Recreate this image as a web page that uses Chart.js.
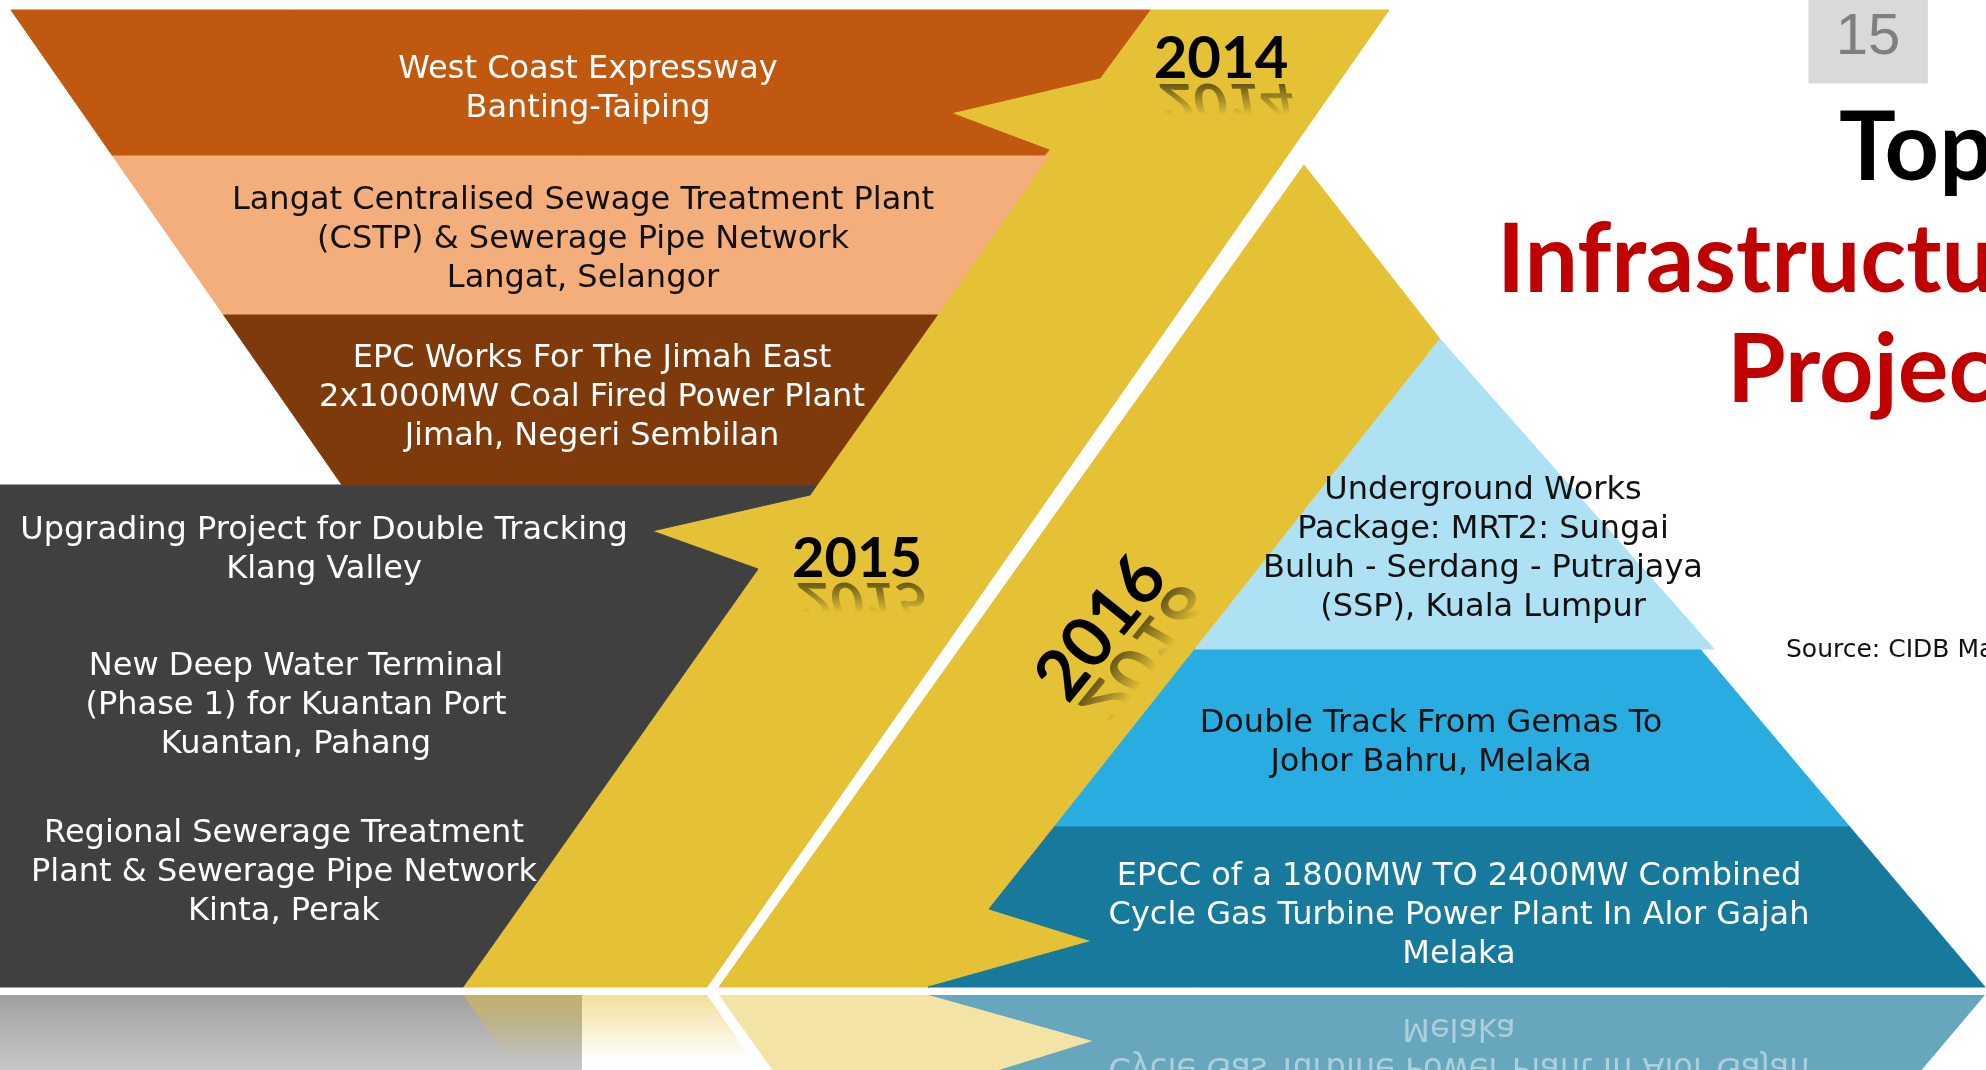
<!DOCTYPE html>
<html>
<head>
<meta charset="utf-8">
<script src="https://cdn.jsdelivr.net/npm/chart.js@4.4.0/dist/chart.umd.min.js"></script>
<style>
  html, body { margin: 0; padding: 0; background: #ffffff; }
  canvas { display: block; }
</style>
</head>
<body>
<canvas id="chart" width="1986" height="1070"></canvas>
<script>
// ---------------- DATA ----------------
// outlines in page units (x to the right, y downwards)

const tierWestCoast = [[11, 10], [1150, 10], [1100, 78], [951, 113], [1049, 150], [1045, 155], [112, 155]];
const tierLangat = [[112, 155], [1049, 155], [938, 314], [223, 314]];
const tierJimah = [[223, 314], [938, 314], [817, 485], [342, 485]];
const panel2015 = [[0, 485], [817, 485], [810, 495], [652, 531], [758, 569], [463, 987], [0, 987]];
const ribbon2014 = [[1150, 10], [1389, 10], [707, 987], [463, 987], [758, 569], [652, 531], [810, 495], [1049, 150], [951, 113], [1100, 78]];
const ribbon2016 = [[1304, 165], [1440, 339], [989, 909], [1092, 941], [928, 987], [719, 987]];
const tierMRT2 = [[1440, 339], [1714, 649], [1195, 649]];
const tierGemas = [[1195, 649], [1700, 649], [1849, 826], [1055, 826]];
const tierAlorGajah = [[1055, 826], [1849, 826], [1985, 987], [928, 987], [1092, 941], [989, 909]];
const pageBox = [[1809, 0], [1927, 0], [1927, 83], [1809, 83]];
const floorShadow = [[0, 995], [582, 995], [582, 1070], [0, 1070]];

const years = ['2014', '2015', '2016'];

const text2014 = [
  ['West Coast Expressway', 'Banting-Taiping'],
  ['Langat Centralised Sewage Treatment Plant', '(CSTP) & Sewerage Pipe Network', 'Langat, Selangor'],
  ['EPC Works For The Jimah East', '2x1000MW Coal Fired Power Plant', 'Jimah, Negeri Sembilan']
];
const text2015 = [
  ['Upgrading Project for Double Tracking', 'Klang Valley'],
  ['New Deep Water Terminal', '(Phase 1) for Kuantan Port', 'Kuantan, Pahang'],
  ['Regional Sewerage Treatment', 'Plant & Sewerage Pipe Network', 'Kinta, Perak']
];
const text2016 = [
  ['Underground Works', 'Package: MRT2: Sungai', 'Buluh - Serdang - Putrajaya', '(SSP), Kuala Lumpur'],
  ['Double Track From Gemas To', 'Johor Bahru, Melaka'],
  ['EPCC of a 1800MW TO 2400MW Combined', 'Cycle Gas Turbine Power Plant In Alor Gajah', 'Melaka']
];

const titleLines = ['Top', 'Infrastructure', 'Projects'];
const pageNumber = '15';
const sourceNote = 'Source: CIDB Malaysia';

// ---------------- HELPERS ----------------

const MIRROR_Y = 991;

function mirror(points) {
  return points.map(p => [p[0], 2 * MIRROR_Y - p[1]]);
}

// vertical gradient between two page-unit rows
function fadeDown(colorTop, colorBottom, y0, y1) {
  return (c) => {
    const chart = c.chart;
    if (!chart.chartArea) return colorTop;
    const sy = chart.scales.y;
    const g = chart.ctx.createLinearGradient(0, sy.getPixelForValue(y0), 0, sy.getPixelForValue(y1));
    g.addColorStop(0, colorTop);
    g.addColorStop(1, colorBottom);
    return g;
  };
}

function shape(points, color, order, edge) {
  const pts = points.concat([points[0]]);
  return {
    data: pts.map(p => ({ x: p[0], y: p[1] })),
    showLine: true,
    fill: 'shape',
    backgroundColor: color,
    borderColor: edge || color,
    borderWidth: edge === 'none' ? 0 : 1,
    pointRadius: 0,
    pointHoverRadius: 0,
    tension: 0,
    order: order
  };
}

const datasets = [
  shape(tierWestCoast, '#C0580F', 3),
  shape(tierLangat, '#F4AE7B', 3),
  shape(tierJimah, '#7E3A0A', 3),
  shape(panel2015, '#404040', 3),
  shape(ribbon2014, '#E4C135', 4),
  shape(ribbon2016, '#E4C135', 4),
  shape(tierMRT2, '#AEE1F3', 3),
  shape(tierGemas, '#29ADE0', 3),
  shape(tierAlorGajah, '#17799C', 3),
  shape(pageBox, '#D9D9D9', 3),
  // reflection on the floor
  shape(floorShadow, fadeDown('#A0A0A0', '#C8C8C8', 995, 1070), 20, 'none'),
  shape(mirror(ribbon2014), fadeDown('rgba(228,193,53,0.5)', 'rgba(228,193,53,0)', 995, 1060), 19, 'none'),
  shape(mirror(ribbon2016), 'rgba(228,193,53,0.45)', 17, 'none'),
  shape(mirror(tierAlorGajah), 'rgba(23,121,156,0.66)', 18, 'none')
];

// ---------------- TEXT ----------------

const bodyFont = '"DejaVu Sans", sans-serif';
const headFont = 'Lato, "DejaVu Sans", sans-serif';
const LINE = 39;

const blockSpots = [
  { lines: text2014[0], x: 588, y: 70, color: '#ffffff' },
  { lines: text2014[1], x: 583, y: 201, color: '#111111' },
  { lines: text2014[2], x: 592, y: 359, color: '#ffffff' },
  { lines: text2015[0], x: 324, y: 531, color: '#ffffff' },
  { lines: text2015[1], x: 296, y: 667, color: '#ffffff' },
  { lines: text2015[2], x: 284, y: 834, color: '#ffffff' },
  { lines: text2016[0], x: 1483, y: 491, color: '#111111' },
  { lines: text2016[1], x: 1431, y: 724, color: '#111111' },
  { lines: text2016[2], x: 1459, y: 877, color: '#ffffff' }
];

const yearSpots = [
  { x: 1221, y: 78, angle: 0, size: 58 },
  { x: 857, y: 577, angle: 0, size: 56 },
  { x: 1119, y: 642, angle: -51, size: 70 }
];

function drawYear(ctx, text, x, y, angle, size) {
  ctx.save();
  ctx.translate(x, y);
  ctx.rotate(angle * Math.PI / 180);
  ctx.font = `bold ${size}px ${headFont}`;
  ctx.textAlign = 'center';
  ctx.textBaseline = 'alphabetic';
  ctx.fillStyle = '#000000';
  ctx.fillText(text, 0, 0);
  // soft mirrored copy under the baseline
  ctx.translate(size * 0.06, size * 0.1);
  ctx.transform(1, 0, -0.15, -0.9, 0, 0);
  const g = ctx.createLinearGradient(0, 0, 0, -size * 0.6);
  g.addColorStop(0, 'rgba(0,0,0,0.55)');
  g.addColorStop(1, 'rgba(0,0,0,0)');
  ctx.fillStyle = g;
  ctx.fillText(text, 0, 0);
  ctx.restore();
}

const textPlugin = {
  id: 'infoText',
  afterDatasetsDraw(chart) {
    const ctx = chart.ctx;
    const sx = chart.scales.x;
    const sy = chart.scales.y;
    const px = v => sx.getPixelForValue(v);
    const py = v => sy.getPixelForValue(v);

    ctx.save();
    ctx.textAlign = 'center';
    ctx.textBaseline = 'middle';
    ctx.font = `32px ${bodyFont}`;
    blockSpots.forEach(b => {
      ctx.fillStyle = b.color;
      b.lines.forEach((t, i) => ctx.fillText(t, px(b.x), py(b.y + i * LINE)));
    });

    // mirrored text of the bottom tier in the floor reflection
    const last = blockSpots[blockSpots.length - 1];
    ctx.save();
    ctx.beginPath();
    ctx.rect(0, py(997), chart.width, chart.height);
    ctx.clip();
    ctx.fillStyle = 'rgba(255,255,255,0.45)';
    last.lines.forEach((t, i) => {
      const yy = 2 * MIRROR_Y - (last.y + i * LINE);
      ctx.save();
      ctx.translate(px(last.x), py(yy));
      ctx.scale(1, -1);
      ctx.fillText(t, 0, 0);
      ctx.restore();
    });
    ctx.restore();

    years.forEach((t, i) => {
      const s = yearSpots[i];
      drawYear(ctx, t, px(s.x), py(s.y), s.angle, s.size);
    });

    // page number
    ctx.textAlign = 'center';
    ctx.textBaseline = 'alphabetic';
    ctx.fillStyle = '#7F7F7F';
    ctx.font = `58px "Liberation Sans", sans-serif`;
    ctx.fillText(pageNumber, px(1868), py(54));

    // title
    ctx.textAlign = 'left';
    ctx.font = `bold 95px ${headFont}`;
    ctx.fillStyle = '#000000';
    ctx.fillText(titleLines[0], px(1839), py(180));
    ctx.fillStyle = '#C00000';
    ctx.fillText(titleLines[1], px(1497), py(292));
    ctx.fillText(titleLines[2], px(1727), py(402));

    // source
    ctx.fillStyle = '#111111';
    ctx.font = `25px ${bodyFont}`;
    ctx.fillText(sourceNote, px(1786), py(657));
    ctx.restore();
  }
};

// ---------------- CHART ----------------

new Chart(document.getElementById('chart'), {
  type: 'scatter',
  data: { datasets: datasets },
  options: {
    responsive: false,
    animation: false,
    events: [],
    layout: { padding: 0 },
    plugins: {
      legend: { display: false },
      tooltip: { enabled: false }
    },
    scales: {
      x: { type: 'linear', min: 0, max: 1986, display: false },
      y: { type: 'linear', min: 0, max: 1070, reverse: true, display: false }
    }
  },
  plugins: [textPlugin]
});
</script>
</body>
</html>
